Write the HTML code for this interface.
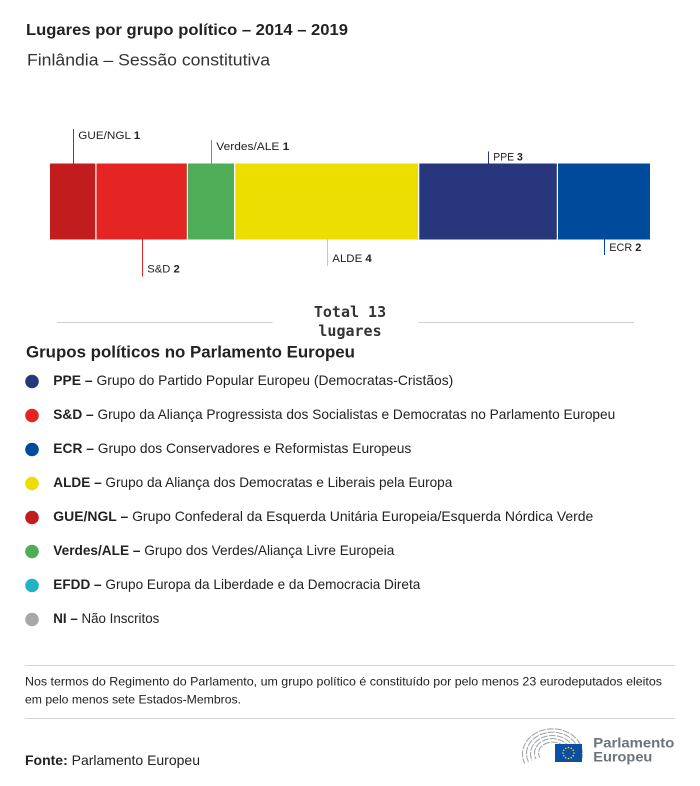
<!DOCTYPE html>
<html>
<head>
<meta charset="utf-8">
<style>
  html, body { margin:0; padding:0; background:#fff; }
  body { width:700px; height:786px; overflow:hidden; }
  svg { display:block; }
  text { font-family: "Liberation Sans", "DejaVu Sans", sans-serif; fill:#222; }
  .mono { font-family: "DejaVu Sans Mono", "Liberation Mono", monospace; font-weight:bold; fill:#333; }
  .b { font-weight:bold; }
</style>
</head>
<body>
<svg width="700" height="786" viewBox="0 0 700 786" xmlns="http://www.w3.org/2000/svg">
  <!-- Titles -->
  <text x="26" y="35" font-size="16" class="b" textLength="322" lengthAdjust="spacingAndGlyphs">Lugares por grupo político – 2014 – 2019</text>
  <text x="27" y="65.5" font-size="17" style="fill:#333" textLength="243" lengthAdjust="spacingAndGlyphs">Finlândia – Sessão constitutiva</text>

  <!-- Bar segments -->
  <rect x="50" y="163.5" width="45.3" height="76" fill="#c11c1e"/>
  <rect x="96.5" y="163.5" width="90.3" height="76" fill="#e52523"/>
  <rect x="188" y="163.5" width="46" height="76" fill="#4fac57"/>
  <rect x="235.3" y="163.5" width="182.7" height="76" fill="#ecdf00"/>
  <rect x="419.3" y="163.5" width="137.5" height="76" fill="#28367c"/>
  <rect x="558" y="163.5" width="92" height="76" fill="#004a9b"/>

  <!-- Label leader lines -->
  <line x1="73.5" y1="129" x2="73.5" y2="164" stroke="#c11c1e" stroke-width="1"/>
  <line x1="211.5" y1="140" x2="211.5" y2="164" stroke="#4fac57" stroke-width="1"/>
  <line x1="488.5" y1="151.5" x2="488.5" y2="164" stroke="#28367c" stroke-width="1"/>
  <line x1="142.5" y1="239" x2="142.5" y2="276.5" stroke="#e52523" stroke-width="1"/>
  <line x1="327.5" y1="239" x2="327.5" y2="266" stroke="#ecdf00" stroke-width="1"/>
  <line x1="604.5" y1="239" x2="604.5" y2="255" stroke="#004a9b" stroke-width="1"/>

  <!-- Labels -->
  <text x="78.3" y="139" font-size="11" textLength="62" lengthAdjust="spacingAndGlyphs">GUE/NGL <tspan class="b">1</tspan></text>
  <text x="216.3" y="150" font-size="11" textLength="73" lengthAdjust="spacingAndGlyphs">Verdes/ALE <tspan class="b">1</tspan></text>
  <text x="493.3" y="160.7" font-size="11" textLength="29.5" lengthAdjust="spacingAndGlyphs">PPE <tspan class="b">3</tspan></text>
  <text x="147.3" y="272.7" font-size="11" textLength="32.5" lengthAdjust="spacingAndGlyphs">S&amp;D <tspan class="b">2</tspan></text>
  <text x="332.3" y="262" font-size="11" textLength="39.5" lengthAdjust="spacingAndGlyphs">ALDE <tspan class="b">4</tspan></text>
  <text x="609.3" y="251" font-size="11" textLength="32" lengthAdjust="spacingAndGlyphs">ECR <tspan class="b">2</tspan></text>

  <!-- Total -->
  <line x1="57" y1="322.5" x2="272.7" y2="322.5" stroke="#cfcfcf" stroke-width="1"/>
  <line x1="418.3" y1="322.5" x2="634" y2="322.5" stroke="#cfcfcf" stroke-width="1"/>
  <text x="350" y="317" font-size="15" class="mono" text-anchor="middle">Total 13</text>
  <text x="350" y="336" font-size="15" class="mono" text-anchor="middle">lugares</text>

  <!-- Legend header -->
  <text x="26" y="357.7" font-size="16.5" class="b" textLength="329" lengthAdjust="spacingAndGlyphs">Grupos políticos no Parlamento Europeu</text>

  <!-- Legend rows -->
  <circle cx="32" cy="381.5" r="6.8" fill="#28367c"/>
  <text x="53.3" y="385" font-size="14" textLength="400" lengthAdjust="spacingAndGlyphs"><tspan class="b">PPE – </tspan>Grupo do Partido Popular Europeu (Democratas-Cristãos)</text>

  <circle cx="32" cy="415.5" r="6.8" fill="#e52523"/>
  <text x="53.3" y="419" font-size="14" textLength="562" lengthAdjust="spacingAndGlyphs"><tspan class="b">S&amp;D – </tspan>Grupo da Aliança Progressista dos Socialistas e Democratas no Parlamento Europeu</text>

  <circle cx="32" cy="449.5" r="6.8" fill="#004a9b"/>
  <text x="53.3" y="453" font-size="14" textLength="358" lengthAdjust="spacingAndGlyphs"><tspan class="b">ECR – </tspan>Grupo dos Conservadores e Reformistas Europeus</text>

  <circle cx="32" cy="483.5" r="6.8" fill="#ecdf00"/>
  <text x="53.3" y="487" font-size="14" textLength="399" lengthAdjust="spacingAndGlyphs"><tspan class="b">ALDE – </tspan>Grupo da Aliança dos Democratas e Liberais pela Europa</text>

  <circle cx="32" cy="517.5" r="6.8" fill="#c11c1e"/>
  <text x="53.3" y="521" font-size="14" textLength="540" lengthAdjust="spacingAndGlyphs"><tspan class="b">GUE/NGL – </tspan>Grupo Confederal da Esquerda Unitária Europeia/Esquerda Nórdica Verde</text>

  <circle cx="32" cy="551.5" r="6.8" fill="#4fac57"/>
  <text x="53.3" y="555" font-size="14" textLength="341" lengthAdjust="spacingAndGlyphs"><tspan class="b">Verdes/ALE – </tspan>Grupo dos Verdes/Aliança Livre Europeia</text>

  <circle cx="32" cy="585.5" r="6.8" fill="#1fb5c4"/>
  <text x="53.3" y="589" font-size="14" textLength="367" lengthAdjust="spacingAndGlyphs"><tspan class="b">EFDD – </tspan>Grupo Europa da Liberdade e da Democracia Direta</text>

  <circle cx="32" cy="619.5" r="6.8" fill="#a8a8a8"/>
  <text x="53.3" y="623" font-size="14" textLength="106" lengthAdjust="spacingAndGlyphs"><tspan class="b">NI – </tspan>Não Inscritos</text>

  <!-- Footnote -->
  <line x1="25" y1="665.5" x2="675" y2="665.5" stroke="#d4d4d4" stroke-width="1"/>
  <text x="25" y="685.5" font-size="12" textLength="637" lengthAdjust="spacingAndGlyphs">Nos termos do Regimento do Parlamento, um grupo político é constituído por pelo menos 23 eurodeputados eleitos</text>
  <text x="25" y="703.5" font-size="12" textLength="216" lengthAdjust="spacingAndGlyphs">em pelo menos sete Estados-Membros.</text>
  <line x1="25" y1="718.5" x2="675" y2="718.5" stroke="#d4d4d4" stroke-width="1"/>

  <!-- Source -->
  <text x="25" y="765" font-size="14" textLength="175" lengthAdjust="spacingAndGlyphs"><tspan class="b">Fonte:</tspan> Parlamento Europeu</text>

  <!-- Logo: hemicycle -->
  <g fill="none" stroke="#9aa1a6" stroke-width="1" stroke-dasharray="7 1.2">
    <path d="M 581.2 761 A 30 25 0 1 0 524.8 763.5"/>
    <path d="M 577.5 759.5 A 26 21.5 0 1 0 528.5 762"/>
    <path d="M 573.8 758 A 22 18 0 1 0 532.2 760.5"/>
    <path d="M 570 756.5 A 18 14.5 0 1 0 536 759"/>
    <path d="M 566.3 755 A 14 11 0 1 0 539.7 757.5"/>
  </g>
  <!-- EU flag -->
  <rect x="555" y="744" width="27" height="18" fill="#0b4ea2"/>
  <g fill="#f5d90a">
    <circle cx="568.5" cy="747.5" r="0.8"/>
    <circle cx="571.25" cy="748.24" r="0.8"/>
    <circle cx="573.26" cy="750.25" r="0.8"/>
    <circle cx="574" cy="753" r="0.8"/>
    <circle cx="573.26" cy="755.75" r="0.8"/>
    <circle cx="571.25" cy="757.76" r="0.8"/>
    <circle cx="568.5" cy="758.5" r="0.8"/>
    <circle cx="565.75" cy="757.76" r="0.8"/>
    <circle cx="563.74" cy="755.75" r="0.8"/>
    <circle cx="563" cy="753" r="0.8"/>
    <circle cx="563.74" cy="750.25" r="0.8"/>
    <circle cx="565.75" cy="748.24" r="0.8"/>
  </g>
  <text x="593.3" y="747.5" font-size="14" class="b" style="fill:#6b7479" textLength="81" lengthAdjust="spacingAndGlyphs">Parlamento</text>
  <text x="593.3" y="761.5" font-size="14" class="b" style="fill:#6b7479" textLength="59" lengthAdjust="spacingAndGlyphs">Europeu</text>
</svg>
</body>
</html>
